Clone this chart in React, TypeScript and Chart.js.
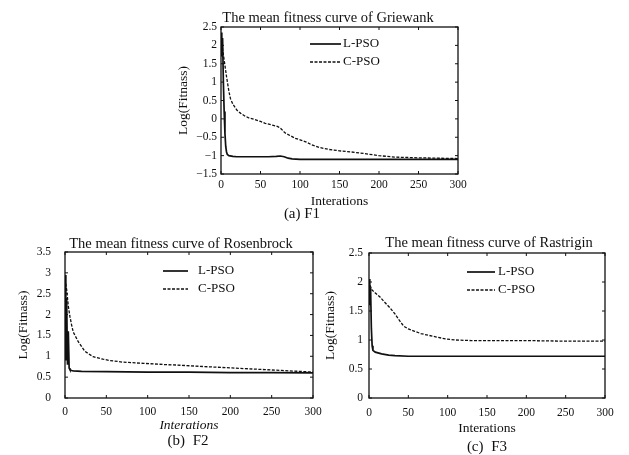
import React, { useEffect, useRef } from 'react';
import { Chart, registerables } from 'chart.js';

Chart.register(...registerables);

// ---------- data ----------
const SERIES_NAMES = ['L-PSO', 'C-PSO'];
const X_TITLE = 'Interations';
const Y_TITLE = 'Log(Fitnass)';
const CHART_TITLES = [
  'The mean fitness curve of Griewank',
  'The mean fitness curve of Rosenbrock',
  'The mean fitness curve of Rastrigin',
];
const CAPTIONS = ['(a) F1', '(b) F2', '(c) F3'];
const X_RANGE = [0, 300];
const X_STEP = 50;
const F1_Y_RANGE = [-1.5, 2.5];
const F2_Y_RANGE = [0, 3.5];
const F3_Y_RANGE = [0, 2.5];
const Y_STEP = 0.5;

const F1_L_ITER = [0, 1, 2, 3, 4, 5, 6, 7, 8, 10, 15, 20, 30, 40, 50, 60, 70, 75, 80, 85, 90, 100, 150, 200, 250, 300];
const F1_L_VAL = [2.35, 1.7, 2.2, 1.0, 0.2, -0.4, -0.75, -0.9, -0.97, -1.0, -1.02, -1.03, -1.03, -1.03, -1.03, -1.03, -1.02, -1.01, -1.03, -1.07, -1.09, -1.1, -1.1, -1.1, -1.1, -1.1];
const F1_C_ITER = [0, 2, 4, 7, 10, 12, 15, 20, 25, 30, 35, 40, 50, 56, 65, 72, 76, 81, 88, 94, 100, 108, 115, 125, 136, 150, 165, 180, 200, 220, 250, 300];
const F1_C_VAL = [2.3, 1.9, 1.6, 1.15, 0.75, 0.55, 0.4, 0.24, 0.15, 0.08, 0.03, 0.0, -0.07, -0.12, -0.17, -0.21, -0.27, -0.38, -0.46, -0.53, -0.57, -0.63, -0.71, -0.78, -0.83, -0.87, -0.9, -0.94, -1.0, -1.04, -1.06, -1.08];

const F2_L_ITER = [0, 1, 2, 3, 4, 5, 6, 8, 10, 20, 50, 100, 150, 200, 250, 300];
const F2_L_VAL = [2.95, 0.9, 2.4, 0.8, 1.6, 0.72, 0.68, 0.66, 0.65, 0.64, 0.63, 0.62, 0.62, 0.61, 0.61, 0.6];
const F2_C_ITER = [0, 2, 4, 6, 8, 10, 16, 24, 34, 46, 54, 70, 95, 122, 135, 162, 182, 202, 222, 242, 262, 282, 300];
const F2_C_VAL = [2.85, 2.6, 2.2, 1.95, 1.75, 1.58, 1.35, 1.12, 0.99, 0.93, 0.9, 0.86, 0.83, 0.8, 0.79, 0.76, 0.74, 0.72, 0.7, 0.68, 0.66, 0.64, 0.62];

const F3_L_ITER = [0, 1, 2, 3, 4, 5, 8, 16, 25, 33, 50, 100, 150, 200, 250, 300];
const F3_L_VAL = [2.05, 1.6, 1.9, 1.2, 0.9, 0.82, 0.79, 0.76, 0.74, 0.73, 0.72, 0.72, 0.72, 0.72, 0.72, 0.72];
const F3_C_ITER = [0, 1, 4, 8, 14, 20, 27, 33, 38, 44, 50, 58, 66, 76, 86, 97, 110, 130, 150, 200, 250, 300];
const F3_C_VAL = [2.02, 1.95, 1.86, 1.81, 1.74, 1.65, 1.55, 1.45, 1.35, 1.24, 1.19, 1.15, 1.11, 1.08, 1.05, 1.02, 1.0, 0.99, 0.99, 0.99, 0.98, 0.98];

// ---------- styles ----------
const FONT = '"Liberation Serif", "Times New Roman", serif';
const INK = '#101010';

const frameAndLegend = {
  id: 'frameAndLegend',
  afterDatasetsDraw(chart: any, _args: any, opts: any) {
    const { ctx, chartArea: a } = chart;
    ctx.save();
    ctx.strokeStyle = INK;
    ctx.lineWidth = 1.3;
    ctx.setLineDash([]);
    ctx.strokeRect(a.left, a.top, a.right - a.left, a.bottom - a.top);
    const xs = chart.scales.x;
    const ys = chart.scales.y;
    ctx.lineWidth = 1;
    ctx.beginPath();
    xs.ticks.forEach((t: any) => {
      const px = xs.getPixelForValue(t.value);
      ctx.moveTo(px, a.bottom);
      ctx.lineTo(px, a.bottom - 3);
      ctx.moveTo(px, a.top);
      ctx.lineTo(px, a.top + 3);
    });
    ys.ticks.forEach((t: any) => {
      const py = ys.getPixelForValue(t.value);
      ctx.moveTo(a.left, py);
      ctx.lineTo(a.left + 3, py);
      ctx.moveTo(a.right, py);
      ctx.lineTo(a.right - 3, py);
    });
    ctx.stroke();
    chart.data.datasets.forEach((ds: any, i: number) => {
      const y = a.top + opts.rows[i];
      const x0 = a.left + opts.x;
      ctx.beginPath();
      ctx.setLineDash(ds.borderDash || []);
      ctx.lineWidth = ds.borderWidth;
      ctx.strokeStyle = ds.borderColor;
      ctx.moveTo(x0, y);
      ctx.lineTo(x0 + opts.len, y);
      ctx.stroke();
      ctx.setLineDash([]);
      ctx.fillStyle = INK;
      ctx.font = `13px ${FONT}`;
      ctx.textBaseline = 'middle';
      ctx.textAlign = 'left';
      ctx.fillText(ds.label, x0 + opts.len + opts.gap, y);
    });
    ctx.restore();
  },
};

type Panel = {
  left: number; top: number; width: number; height: number;
  pad: { top: number; right: number };
  yWidth: number; xHeight: number;
  yTickPad: number; xTickPad: number;
  yTitlePad: number; xTitlePad: number; xTitleItalic?: boolean;
  yRange: number[];
  lIter: number[]; lVal: number[]; cIter: number[]; cVal: number[];
  legend: { x: number; rows: number[]; len: number; gap: number };
};

const PANELS: Panel[] = [
  {
    left: 172, top: 0, width: 300, height: 212,
    pad: { top: 27, right: 14 }, yWidth: 49, xHeight: 38,
    yTickPad: 4, xTickPad: 4.4, yTitlePad: 3, xTitlePad: 2.9,
    yRange: F1_Y_RANGE,
    lIter: F1_L_ITER, lVal: F1_L_VAL, cIter: F1_C_ITER, cVal: F1_C_VAL,
    legend: { x: 89, rows: [17, 35], len: 31, gap: 2 },
  },
  {
    left: 0, top: 228, width: 330, height: 208,
    pad: { top: 24, right: 17 }, yWidth: 65, xHeight: 38,
    yTickPad: 14, xTickPad: 7, yTitlePad: 15, xTitlePad: 2.2, xTitleItalic: true,
    yRange: F2_Y_RANGE,
    lIter: F2_L_ITER, lVal: F2_L_VAL, cIter: F2_C_ITER, cVal: F2_C_VAL,
    legend: { x: 98, rows: [19, 37], len: 25, gap: 10 },
  },
  {
    left: 318, top: 228, width: 311, height: 210,
    pad: { top: 25, right: 24 }, yWidth: 51, xHeight: 40,
    yTickPad: 6, xTickPad: 8, yTitlePad: 3.9, xTitlePad: 1.6,
    yRange: F3_Y_RANGE,
    lIter: F3_L_ITER, lVal: F3_L_VAL, cIter: F3_C_ITER, cVal: F3_C_VAL,
    legend: { x: 98, rows: [19, 37], len: 28, gap: 3 },
  },
];

const pts = (xs: number[], ys: number[]) => xs.map((x, i) => ({ x, y: ys[i] }));
const fmt = (v: number) => String(v).replace('-', '\u2212');

function PanelChart({ p }: { p: Panel }) {
  const ref = useRef<HTMLCanvasElement>(null);
  useEffect(() => {
    const chart = new Chart(ref.current as HTMLCanvasElement, {
      type: 'line',
      data: {
        datasets: [
          {
            label: SERIES_NAMES[0], data: pts(p.lIter, p.lVal),
            borderColor: INK, borderWidth: 1.7, pointRadius: 0, tension: 0, fill: false,
          },
          {
            label: SERIES_NAMES[1], data: pts(p.cIter, p.cVal),
            borderColor: INK, borderWidth: 1.3, borderDash: [3, 1.5], pointRadius: 0, tension: 0, fill: false,
          },
        ],
      },
      options: {
        animation: false,
        responsive: false,
        maintainAspectRatio: false,
        layout: { padding: { left: 0, top: p.pad.top, right: p.pad.right, bottom: 0 } },
        plugins: {
          legend: { display: false },
          title: { display: false },
          tooltip: { enabled: false },
          frameAndLegend: p.legend,
        } as any,
        scales: {
          x: {
            type: 'linear', min: X_RANGE[0], max: X_RANGE[1],
            grid: { display: false, drawTicks: false },
            border: { display: false },
            ticks: { stepSize: X_STEP, padding: p.xTickPad, color: INK, font: { family: FONT, size: 11.5 }, maxRotation: 0, callback: (v: any) => fmt(v) },
            title: { display: true, text: X_TITLE, color: INK, padding: { top: 0, bottom: p.xTitlePad }, font: { family: FONT, size: 13.5, style: p.xTitleItalic ? 'italic' : 'normal' } },
            afterFit: (s: any) => { s.height = p.xHeight; },
          },
          y: {
            type: 'linear', min: p.yRange[0], max: p.yRange[1],
            grid: { display: false, drawTicks: false },
            border: { display: false },
            ticks: { stepSize: Y_STEP, padding: p.yTickPad, color: INK, font: { family: FONT, size: 11.5 }, callback: (v: any) => fmt(v) },
            title: { display: true, text: Y_TITLE, color: INK, padding: { top: p.yTitlePad, bottom: 0 }, font: { family: FONT, size: 13.5 } },
            afterFit: (s: any) => { s.width = p.yWidth; },
          },
        },
      },
      plugins: [frameAndLegend],
    } as any);
    return () => chart.destroy();
  }, [p]);
  return (
    <canvas
      ref={ref}
      width={p.width}
      height={p.height}
      style={{ position: 'absolute', left: p.left, top: p.top, width: p.width, height: p.height }}
    />
  );
}

const TITLE_POS = [
  { x: 328, y: 17 },
  { x: 181, y: 243 },
  { x: 489, y: 242 },
];
const CAPTION_POS = [
  { x: 302, y: 213 },
  { x: 188, y: 440 },
  { x: 487, y: 446 },
];

const textStyle = (x: number, y: number, size: number, extra: any = {}): React.CSSProperties => ({
  position: 'absolute', left: x, top: y, transform: 'translate(-50%, -50%)',
  whiteSpace: 'nowrap', fontFamily: FONT, fontSize: size, lineHeight: 1, color: INK, ...extra,
});

export default function App() {
  return (
    <div style={{ position: 'absolute', left: 0, top: 0, width: 629, height: 455, background: '#fff', overflow: 'hidden' }}>
      {PANELS.map((p, i) => <PanelChart key={i} p={p} />)}
      {CHART_TITLES.map((t, i) => (
        <div key={'t' + i} style={textStyle(TITLE_POS[i].x, TITLE_POS[i].y, 14.5)}>{t}</div>
      ))}
      {CAPTIONS.map((t, i) => (
        <div key={'c' + i} style={textStyle(CAPTION_POS[i].x, CAPTION_POS[i].y, 15, i > 0 ? { wordSpacing: 4 } : {})}>{t}</div>
      ))}
    </div>
  );
}
